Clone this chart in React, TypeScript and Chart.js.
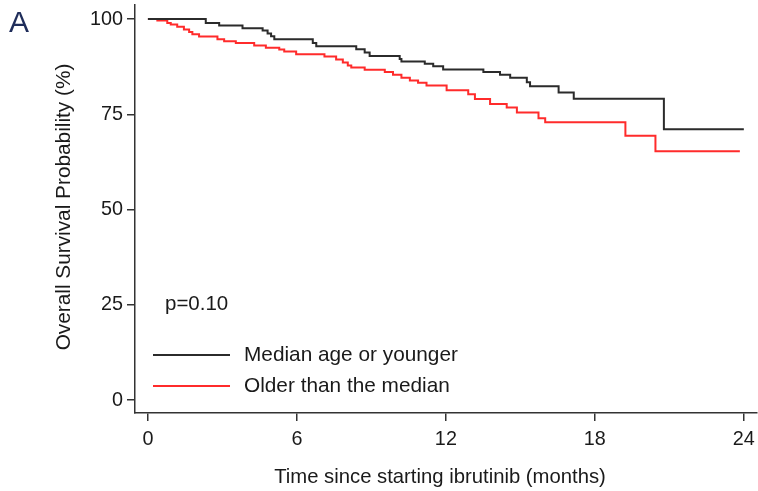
import React, { useEffect, useRef } from "react";
import { Chart, registerables } from "chart.js";

Chart.register(...registerables);

const youngerTimes = [0, 2.33, 2.87, 3.81, 4.62, 4.82, 4.96, 5.09, 6.64, 6.78, 8.39, 8.73, 8.93, 10.14, 10.21, 11.15, 11.49, 11.89, 13.51, 14.18, 14.59, 15.26, 15.39, 16.54, 17.15, 20.78, 24.0];
const youngerSurv = [100, 99.0, 98.3, 97.6, 97.0, 96.2, 95.5, 94.7, 93.7, 92.9, 92.1, 91.2, 90.3, 89.5, 88.9, 88.3, 87.6, 86.8, 86.1, 85.4, 84.6, 83.4, 82.4, 80.7, 79.1, 71.1, 71.1];

const olderTimes = [0, 0.38, 0.78, 0.92, 1.18, 1.45, 1.66, 1.79, 2.06, 2.8, 3.07, 3.54, 4.28, 4.75, 5.29, 5.49, 5.97, 7.11, 7.58, 7.85, 8.05, 8.19, 8.73, 9.54, 9.87, 10.21, 10.55, 10.88, 11.22, 12.03, 12.9, 13.17, 13.78, 14.45, 14.86, 15.73, 16.0, 19.23, 20.44, 23.84];
const olderSurv = [100, 99.6, 99.0, 98.6, 98.0, 97.3, 96.6, 96.0, 95.4, 94.7, 94.2, 93.7, 93.1, 92.5, 92.0, 91.5, 90.8, 90.2, 89.4, 88.6, 87.8, 87.3, 86.7, 86.1, 85.4, 84.6, 83.9, 83.3, 82.6, 81.3, 80.3, 79.0, 77.7, 76.8, 75.5, 74.0, 72.9, 69.4, 65.3, 65.3];

const xTicks = [0, 6, 12, 18, 24];
const yTicks = [0, 25, 50, 75, 100];

const seriesNames = ["Median age or younger", "Older than the median"];
const seriesColors = ["#2b2b2b", "#ff2b2b"];
const panelLabel = "A";
const pValueText = "p=0.10";
const xTitle = "Time since starting ibrutinib (months)";
const yTitle = "Overall Survival Probability (%)";

const FONT = "'Liberation Sans', Arial, sans-serif";

export default function App() {
  const ref = useRef<HTMLCanvasElement | null>(null);

  useEffect(() => {
    if (!ref.current) return;
    const textPlugin = {
      id: "textPlugin",
      afterDraw(chart: any) {
        const ctx = chart.ctx;
        const ys = chart.scales.y;
        ctx.save();
        // panel label
        ctx.fillStyle = "#1f2d5a";
        ctx.font = `30px ${FONT}`;
        ctx.textAlign = "left";
        ctx.textBaseline = "middle";
        ctx.fillText(panelLabel, 9, 24);
        // p value
        ctx.fillStyle = "#1a1a1a";
        ctx.font = `20.5px ${FONT}`;
        ctx.fillText(pValueText, 165, ys.getPixelForValue(25));
        // legend
        const rows = [355, 386];
        seriesNames.forEach((name, i) => {
          ctx.strokeStyle = seriesColors[i];
          ctx.lineWidth = 2;
          ctx.beginPath();
          ctx.moveTo(153, rows[i]);
          ctx.lineTo(230, rows[i]);
          ctx.stroke();
          ctx.fillStyle = "#1a1a1a";
          ctx.font = `20.8px ${FONT}`;
          ctx.fillText(name, 244, rows[i]);
        });
        // axis titles
        ctx.textAlign = "center";
        ctx.font = `20.3px ${FONT}`;
        ctx.fillText(xTitle, 440, 477);
        ctx.translate(64, 207);
        ctx.rotate(-Math.PI / 2);
        ctx.font = `20.8px ${FONT}`;
        ctx.fillText(yTitle, 0, 0);
        ctx.restore();
      },
    };

    const chart = new Chart(ref.current, {
      type: "line",
      data: {
        datasets: [
          {
            label: seriesNames[0],
            data: youngerTimes.map((t, i) => ({ x: t, y: youngerSurv[i] })),
            borderColor: seriesColors[0],
            borderWidth: 2,
            pointRadius: 0,
            stepped: "before",
            fill: false,
          },
          {
            label: seriesNames[1],
            data: olderTimes.map((t, i) => ({ x: t, y: olderSurv[i] })),
            borderColor: seriesColors[1],
            borderWidth: 2,
            pointRadius: 0,
            stepped: "before",
            fill: false,
          },
        ],
      },
      options: {
        responsive: false,
        animation: false,
        layout: { padding: { left: 0, top: 5, right: 1, bottom: 0 } },
        plugins: { legend: { display: false }, tooltip: { enabled: false }, title: { display: false } },
        scales: {
          x: {
            type: "linear",
            min: -0.52,
            max: 24.53,
            afterBuildTicks: (scale: any) => {
              scale.ticks = xTicks.map((v) => ({ value: v }));
            },
            afterFit: (scale: any) => {
              scale.height = 78;
              scale.paddingLeft = 0;
              scale.paddingRight = 0;
            },
            grid: { display: true, drawOnChartArea: false, drawTicks: true, tickLength: 8, color: "#333", lineWidth: 1.5 },
            border: { display: true, color: "#333", width: 1.5 },
            ticks: { color: "#1a1a1a", font: { family: FONT, size: 19.8 }, padding: 7, maxRotation: 0 },
          },
          y: {
            type: "linear",
            min: -3.4,
            max: 103.7,
            afterBuildTicks: (scale: any) => {
              scale.ticks = yTicks.map((v) => ({ value: v }));
            },
            afterFit: (scale: any) => {
              scale.width = 135;
              scale.paddingTop = 0;
              scale.paddingBottom = 0;
            },
            grid: { display: true, drawOnChartArea: false, drawTicks: true, tickLength: 8, color: "#333", lineWidth: 1.5 },
            border: { display: true, color: "#333", width: 1.5 },
            ticks: { color: "#1a1a1a", font: { family: FONT, size: 19.8 }, padding: 4 },
          },
        },
      },
      plugins: [textPlugin],
    });
    return () => chart.destroy();
  }, []);

  return (
    <div style={{ position: "absolute", left: 0, top: 0, width: 758, height: 491, background: "#fff" }}>
      <canvas ref={ref} width={758} height={491} />
    </div>
  );
}
